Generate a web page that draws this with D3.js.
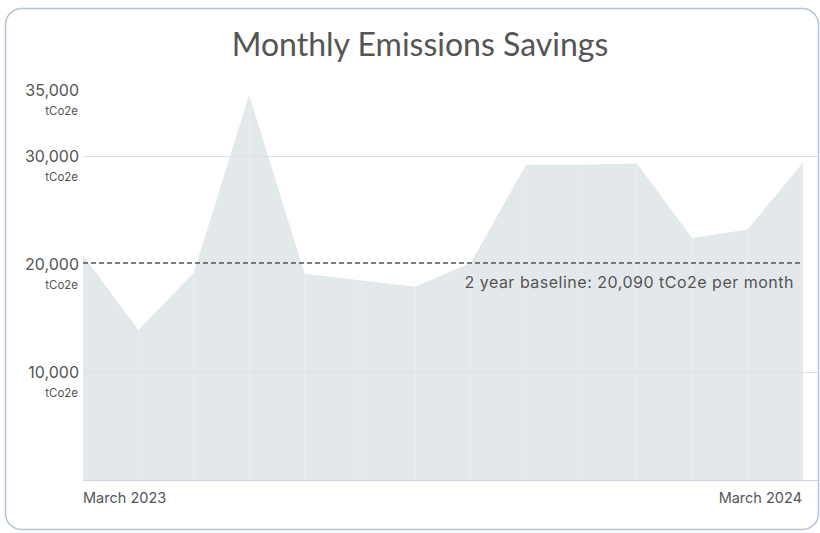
<!DOCTYPE html>
<html lang="en">
<head>
<meta charset="UTF-8">
<title>Monthly Emissions Savings</title>
<script src="https://cdn.jsdelivr.net/npm/d3@7"></script>
<style>
    body { margin: 0; background: #fff; }
    text { font-family: Inter, "Noto Sans", sans-serif; }
</style>
</head>
<body>
<svg width="820" height="533"></svg>
<script>

    // monthly savings, March 2023 onwards (tCo2e)
    let months = ['2023-03', '2023-04', '2023-05', '2023-06', '2023-07', '2023-08', '2023-09',
                  '2023-10', '2023-11', '2023-12', '2024-01', '2024-02', '2024-03', '2024-04']
    let savings = [20800, 13900, 19200, 35650, 19100, 18500, 17900,
                   20100, 29200, 29200, 29300, 22400, 23200, 29400]
    let yTicks = [10000, 20000, 30000, 35000]
    let xLabels = ['March 2023', 'March 2024']
    let baseline = 20090

    let svg = d3.select('svg')
    let width = +svg.attr('width')
    let margin = {top: 48, right: 17, bottom: 53, left: 83}
    let plotW = 803 - margin.left
    let plotBottom = 480

    // card
    svg.append('rect')
        .attr('x', 5.5).attr('y', 8.5)
        .attr('width', 813).attr('height', 521)
        .attr('rx', 16)
        .attr('fill', '#fff')
        .attr('stroke', '#b4c4d4')
        .attr('stroke-width', 1.5)

    let x = d3.scalePoint()
        .domain(months)
        .range([margin.left, margin.left + plotW])

    let y = d3.scaleLinear()
        .domain([0, 40000])
        .range([plotBottom, margin.top])

    let data = months.map((m, i) => ({month: m, value: savings[i]}))

    // area
    let area = d3.area()
        .x(d => x(d.month))
        .y0(y(0))
        .y1(d => y(d.value))

    svg.append('path')
        .datum(data)
        .attr('d', area)
        .attr('fill', '#e3e8eb')

    // vertical grid (faint, shows only over the area)
    svg.append('g')
        .selectAll('line')
        .data(months.slice(1, -1))
        .enter()
        .append('line')
        .attr('x1', d => x(d)).attr('x2', d => x(d))
        .attr('y1', y(40000)).attr('y2', plotBottom)
        .attr('stroke', '#fff')
        .attr('stroke-opacity', 0.25)
        .attr('stroke-width', 1)

    // horizontal grid
    svg.append('g')
        .selectAll('line')
        .data([10000, 30000])
        .enter()
        .append('line')
        .attr('x1', margin.left).attr('x2', width)
        .attr('y1', d => y(d) + 0.5).attr('y2', d => y(d) + 0.5)
        .attr('stroke', '#dbe2ea')
        .attr('stroke-width', 1)

    // x axis line
    svg.append('line')
        .attr('x1', margin.left).attr('x2', width)
        .attr('y1', plotBottom + 0.5).attr('y2', plotBottom + 0.5)
        .attr('stroke', '#cad4df')
        .attr('stroke-width', 1.2)

    // y labels
    let yl = svg.append('g')
        .selectAll('g')
        .data(yTicks)
        .enter()
        .append('g')
        // top label sits a little above its value, like the original
        .attr('transform', d => 'translate(79,' + (d === 35000 ? y(d) - 12 : y(d)) + ')')

    yl.append('text')
        .attr('text-anchor', 'end')
        .attr('dy', '0.35em')
        .attr('font-size', 16)
        .attr('fill', '#555')
        .text(d => d3.format(',')(d))

    yl.append('text')
        .attr('text-anchor', 'end')
        .attr('x', -1)
        .attr('y', 21)
        .attr('dy', '0.35em')
        .attr('font-size', 11.5)
        .attr('fill', '#555')
        .text('tCo2e')

    // x labels
    svg.append('text')
        .attr('x', x(months[0]))
        .attr('y', 498)
        .attr('dy', '0.35em')
        .attr('font-size', 14.5)
        .attr('fill', '#555')
        .text(xLabels[0])

    svg.append('text')
        .attr('x', x(months[months.length - 1]) - 1)
        .attr('y', 498)
        .attr('dy', '0.35em')
        .attr('text-anchor', 'end')
        .attr('font-size', 14.5)
        .attr('fill', '#555')
        .text(xLabels[1])

    // baseline
    svg.append('line')
        .attr('x1', margin.left).attr('x2', margin.left + plotW)
        .attr('y1', y(baseline)).attr('y2', y(baseline))
        .attr('stroke', '#555')
        .attr('stroke-width', 1.4)
        .attr('stroke-dasharray', '5,3')

    svg.append('text')
        .attr('x', 794)
        .attr('y', y(baseline) + 19)
        .attr('dy', '0.35em')
        .attr('text-anchor', 'end')
        .attr('font-size', 16)
        .attr('letter-spacing', 0.5)
        .attr('fill', '#555')
        .text('2 year baseline: ' + d3.format(',')(baseline) + ' tCo2e per month')

    // title
    svg.append('text')
        .attr('x', 420)
        .attr('y', 56)
        .attr('text-anchor', 'middle')
        .attr('font-size', 32)
        .attr('fill', '#555')
        .style('font-family', 'Lato, sans-serif')
        .text('Monthly Emissions Savings')

</script>
</body>
</html>
